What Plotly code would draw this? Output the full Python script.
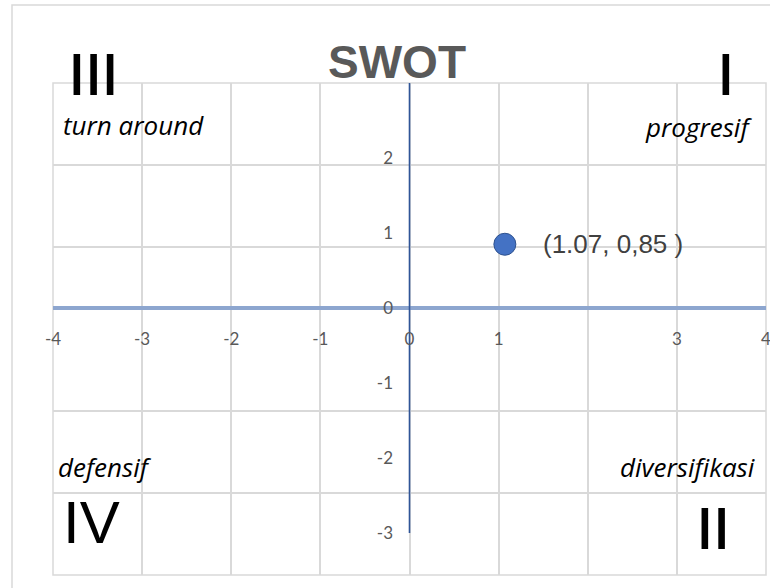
import plotly.graph_objects as go

# ---- data -------------------------------------------------------------
point_x = [1.07]
point_y = [0.85]
point_labels = ["(1.07, 0,85 )"]

x_ticks = [-4, -3, -2, -1, 0, 1, 3, 4]
y_ticks = [-3, -2, -1, 0, 1, 2]
x_range = [-4, 4]
y_range = [-3.56, 3.0]
v_axis_span = [-3, 3]          # extent of the vertical axis line

# spreadsheet-style cell rows behind the chart (row borders, 0..6)
cell_rows = [1, 2, 4, 5]
cell_row_range = [0, 6]

quadrant_numerals = ["III", "I", "IV", "II"]
strategy_labels = ["turn around", "progresif", "defensif", "diversifikasi"]

# ---- geometry helpers (pixel -> paper) --------------------------------
W, H = 770, 588
L, R, T, B = 53, 4, 83, 13
PW, PH = W - L - R, H - T - B


def px(x):
    return (x - L) / PW


def py(y):
    return (H - B - y) / PH


GRID = "#D9D9D9"
TICK_FONT = dict(family="Lato, Liberation Sans, sans-serif", size=17, color="#595959")

fig = go.Figure()

# vertical axis line through x = 0
fig.add_trace(go.Scatter(
    x=[0, 0], y=v_axis_span, mode="lines",
    line=dict(color="#2F5597", width=1.6),
    hoverinfo="skip", showlegend=False,
))

# the SWOT position point
fig.add_trace(go.Scatter(
    x=point_x, y=point_y, mode="markers",
    marker=dict(size=22, color="#4472C4", line=dict(color="#2F528F", width=1)),
    showlegend=False,
))

# empty trace to activate the cell-row axis
fig.add_trace(go.Scatter(x=[None], y=[None], yaxis="y2", showlegend=False,
                         hoverinfo="skip"))

fig.update_layout(
    width=W, height=H,
    margin=dict(l=L, r=R, t=T, b=B, autoexpand=False),
    paper_bgcolor="white", plot_bgcolor="white",
    xaxis=dict(
        range=x_range,
        tickvals=x_ticks, ticktext=[str(v) for v in x_ticks], ticks="",
        ticklabeloverflow="allow", automargin=False,
        showgrid=True, gridcolor=GRID, gridwidth=1.5,
        minor=dict(dtick=1, tick0=0, showgrid=True, gridcolor=GRID, gridwidth=1.5),
        zeroline=False, showline=False,
        anchor="free", position=py(327),
        tickfont=TICK_FONT, fixedrange=True,
    ),
    yaxis=dict(
        range=y_range, tickvals=y_ticks, ticktext=[str(v) for v in y_ticks],
        ticks="", automargin=False,
        showgrid=False,
        zeroline=True, zerolinecolor="#8DA6CF", zerolinewidth=4,
        showline=False,
        anchor="free", position=px(409), side="left",
        ticklabelstandoff=16,
        tickfont=TICK_FONT, fixedrange=True,
    ),
    yaxis2=dict(
        overlaying="y", range=cell_row_range, tickvals=cell_rows,
        showgrid=True, gridcolor=GRID, gridwidth=1.5,
        showticklabels=False, zeroline=False, showline=False,
        automargin=False, fixedrange=True,
    ),
    shapes=[
        # outer chart border
        dict(type="rect", xref="paper", yref="paper",
             x0=px(12), x1=px(800), y0=py(640), y1=py(5),
             line=dict(color=GRID, width=1.5), layer="below"),
        # border of the cell block behind the plot
        dict(type="rect", xref="x domain", yref="y domain",
             x0=0, x1=1, y0=0, y1=1,
             line=dict(color=GRID, width=1.5), layer="below"),
    ],
)

ann = []

# title
ann.append(dict(text="<b>SWOT</b>", x=px(397), y=py(62), xref="paper", yref="paper",
                showarrow=False, xanchor="center", yanchor="middle",
                font=dict(family="Liberation Sans, Arial, sans-serif", size=46,
                          color="#595959")))

# quadrant numerals (the heavier ones get a 1px shadow to thicken the strokes)
heavy = "1px 0 0 #000000"
num_pos = [(66, 74, "left", heavy), (736, 74, "right", heavy),
           (61, 522, "left", "none"), (731, 528, "right", heavy)]
for txt, (x, y, anc, sh) in zip(quadrant_numerals, num_pos):
    ann.append(dict(text=txt, x=px(x), y=py(y), xref="paper", yref="paper",
                    showarrow=False, xanchor=anc, yanchor="middle",
                    font=dict(family="Liberation Sans, Arial, sans-serif", size=60,
                              color="black", shadow=sh)))

# strategy names
lab_font = dict(family="Open Sans, sans-serif", size=26, color="black", style="italic")
lab_pos = [(61, 125, "left"), (754, 127, "right"), (56, 467, "left"), (757, 467, "right")]
for txt, (x, y, anc) in zip(strategy_labels, lab_pos):
    ann.append(dict(text=txt, x=px(x), y=py(y), xref="paper", yref="paper",
                    showarrow=False, xanchor=anc, yanchor="middle", font=lab_font))

# data label next to the point
for x, y, t in zip(point_x, point_y, point_labels):
    ann.append(dict(text=t, x=x, y=y, xref="x", yref="y", showarrow=False,
                    xanchor="left", yanchor="middle", xshift=36,
                    font=dict(family="Liberation Sans, Arial, sans-serif", size=26,
                              color="#404040")))

fig.update_layout(annotations=ann)

fig.write_html("out.html")
